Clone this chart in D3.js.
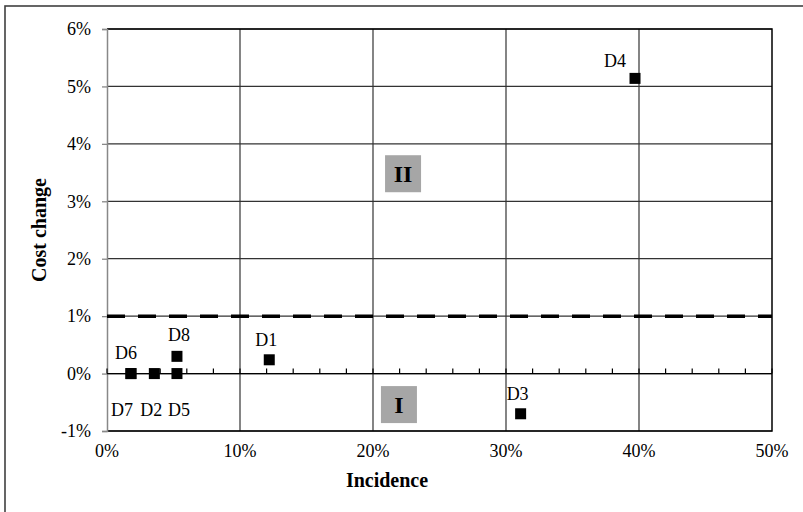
<!DOCTYPE html>
<html><head><meta charset="utf-8">
<script src="https://cdn.jsdelivr.net/npm/d3@7"></script>
<style>body{margin:0;background:#fff}svg{display:block}text{font-family:"Liberation Serif","Times New Roman",serif}</style>
</head><body><svg id="c" width="803" height="512"></svg>
<script>
const names = ["D1","D2","D3","D4","D5","D6","D7","D8"];
const incidence = [0.122, 0.0356, 0.311, 0.397, 0.0526, 0.018, 0.018, 0.0526];
const costChange = [0.0024, 0.0, -0.0070, 0.0514, 0.0, 0.0, 0.0, 0.0030];
const labelPlace = ["above","below","above","leftAbove","belowRight","aboveLeft","belowLeft","aboveRight"];
const xTicks = [0,0.1,0.2,0.3,0.4,0.5];
const yTicks = [-0.01,0,0.01,0.02,0.03,0.04,0.05,0.06];
const thresholdY = 0.01;
const quadrants = [{label:"II", x:0.2226, y:0.0348},{label:"I", x:0.2195, y:-0.0054}];

const svg = d3.select("#c");
const L=107, R=772, T=29, B=431;
const x = d3.scaleLinear().domain([0,0.5]).range([L,R]);
const y = d3.scaleLinear().domain([-0.01,0.06]).range([B,T]);
const pct = d => d3.format(".0%")(d).replace("\u2212","-");

svg.append("rect").attr("x",5).attr("y",6).attr("width",810).attr("height",520)
  .attr("fill","#fff").attr("stroke","#404040").attr("stroke-width",1.6);

const g = svg.append("g");
g.selectAll(".hg").data(yTicks).join("line")
  .attr("x1",L).attr("x2",R).attr("y1",d=>y(d)).attr("y2",d=>y(d))
  .attr("stroke","#333").attr("stroke-width",1.2);
g.selectAll(".vg").data(xTicks.slice(1,-1)).join("line")
  .attr("y1",T).attr("y2",B).attr("x1",d=>x(d)).attr("x2",d=>x(d))
  .attr("stroke","#333").attr("stroke-width",1.2);
g.append("path").attr("d",`M${L},${T}H${R}V${B}H${L}`).attr("fill","none").attr("stroke","#000").attr("stroke-width",1.5);

const yAxis = d3.axisLeft(y).tickValues(yTicks).tickFormat(pct).tickSize(5).tickPadding(11);
const ya = svg.append("g").attr("transform",`translate(${L},0)`).call(yAxis);
ya.attr("font-family",null);
ya.select(".domain").attr("stroke","#888").attr("stroke-width",1.5);
ya.selectAll(".tick line").attr("stroke","#888").attr("stroke-width",1.3);
ya.selectAll("text").attr("font-size",18).attr("fill","#000");

const minor = d3.range(0,0.5001,0.02);
svg.append("g").selectAll("line").data(minor).join("line")
  .attr("x1",d=>x(d)).attr("x2",d=>x(d)).attr("y1",y(0)-5).attr("y2",y(0))
  .attr("stroke","#000").attr("stroke-width",1.2);
svg.append("line").attr("x1",L).attr("x2",R).attr("y1",y(0)).attr("y2",y(0)).attr("stroke","#000").attr("stroke-width",1.3);
svg.append("g").selectAll("text").data(xTicks).join("text")
  .attr("x",d=>x(d)).attr("y",B+26).attr("text-anchor","middle")
  .attr("font-size",18).text(pct);

svg.append("line").attr("x1",L).attr("x2",R).attr("y1",y(thresholdY)).attr("y2",y(thresholdY))
  .attr("stroke","#000").attr("stroke-width",3.5).attr("stroke-dasharray","18,13");

const qg = svg.append("g").selectAll("g").data(quadrants).join("g")
  .attr("transform",d=>`translate(${x(d.x)},${y(d.y)})`);
qg.append("rect").attr("x",-18).attr("y",-18.5).attr("width",36).attr("height",37).attr("fill","#a6a6a6");
qg.append("text").attr("text-anchor","middle").attr("dy","0.35em").attr("font-size",24).attr("font-weight","bold").text(d=>d.label);

const pts = names.map((n,i)=>({n, x:incidence[i], y:costChange[i], p:labelPlace[i]}));
svg.append("g").selectAll("rect").data(pts).join("rect")
  .attr("x",d=>x(d.x)-5.5).attr("y",d=>y(d.y)-5.5).attr("width",11).attr("height",11).attr("fill","#000");
const off = {above:[-3,-14], aboveLeft:[-5,-15], aboveRight:[2,-15], below:[-3,42], belowLeft:[-9,42], belowRight:[2,42], leftAbove:[-20,-11]};
svg.append("g").selectAll("text").data(pts).join("text")
  .attr("x",d=>x(d.x)+off[d.p][0]).attr("y",d=>y(d.y)+off[d.p][1])
  .attr("text-anchor","middle").attr("font-size",18).text(d=>d.n);

svg.append("text").attr("x",387).attr("y",487).attr("text-anchor","middle").attr("font-size",20).attr("font-weight","bold").text("Incidence");
svg.append("text").attr("transform",`translate(46,${(T+B)/2}) rotate(-90)`).attr("text-anchor","middle").attr("font-size",20).attr("font-weight","bold").text("Cost change");
</script></body></html>
